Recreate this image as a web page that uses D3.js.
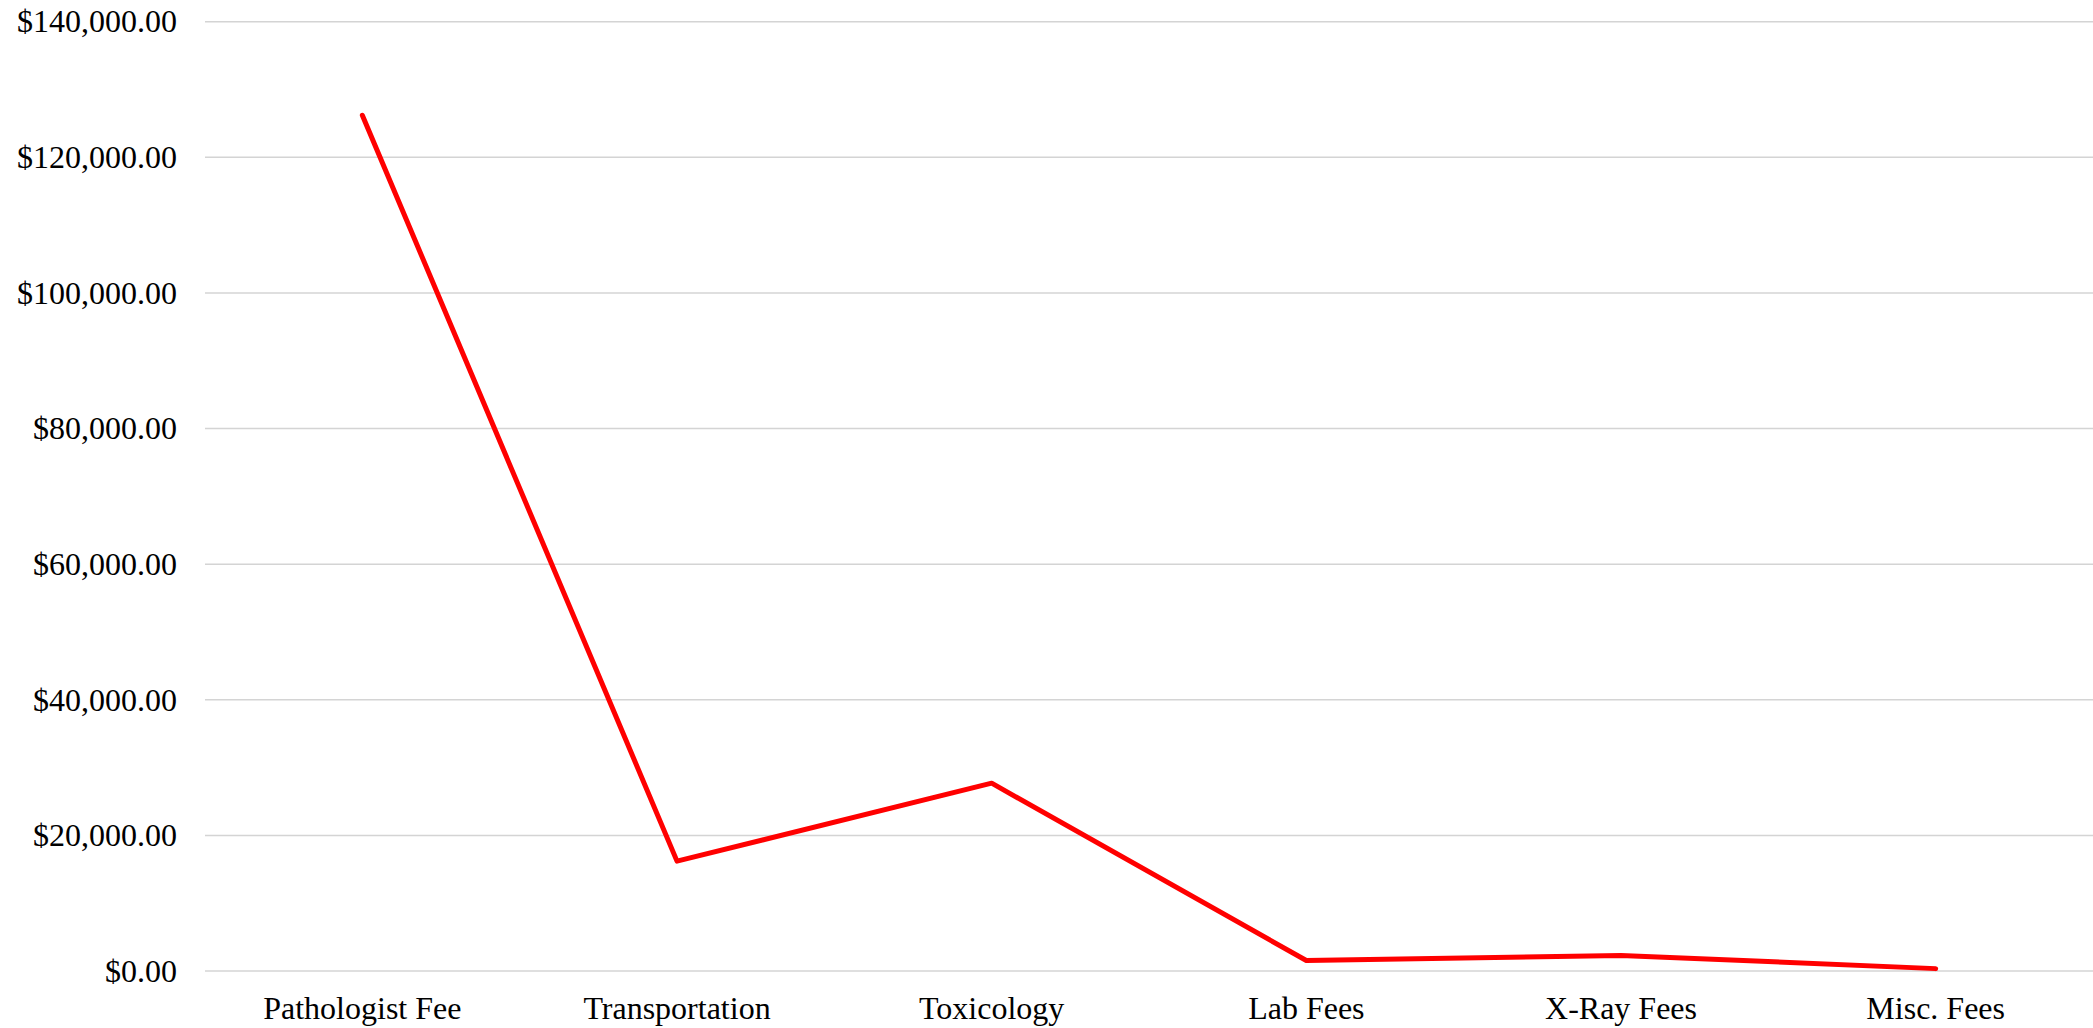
<!DOCTYPE html>
<html>
<head>
<meta charset="utf-8"/>
<title>Autopsy Fees</title>
<style>
  body { margin: 0; background: #fff; }
  text { font-family: "Liberation Serif", "Times New Roman", serif; fill: #000; }
</style>
<script src="https://d3js.org/d3.v7.min.js"></script>
</head>
<body>
<div id="chart"></div>
<script>
// chart data
var categories = ["Pathologist Fee", "Transportation", "Toxicology", "Lab Fees", "X-Ray Fees", "Misc. Fees"]
var fees = [126200, 16200, 27700, 1550, 2300, 350]
var yTicks = [0, 20000, 40000, 60000, 80000, 100000, 120000, 140000]

var width = 2093,
    height = 1028
var margin = {top: 21, right: 0, bottom: 57, left: 205}

var svg = d3.select("#chart")
  .append("svg")
    .attr("width", width)
    .attr("height", height)

var x = d3.scaleBand()
  .domain(categories)
  .range([margin.left, width - margin.right])

var y = d3.scaleLinear()
  .domain([0, 140000])
  .range([height - margin.bottom, margin.top + 0.7])

var money = function(d) { return "$" + d3.format(",.2f")(d) }

// horizontal gridlines
svg.append("g")
  .selectAll("line")
  .data(yTicks)
  .enter()
  .append("line")
    .attr("x1", margin.left)
    .attr("x2", width - margin.right)
    .attr("y1", function(d) { return y(d) })
    .attr("y2", function(d) { return y(d) })
    .attr("stroke", "#d4d4d4")
    .attr("stroke-width", 1.5)

// y axis labels
var yAxis = svg.append("g")
  .attr("transform", "translate(" + margin.left + ",0)")
  .call(d3.axisLeft(y).tickValues(yTicks).tickFormat(money).tickSize(0).tickPadding(28))
yAxis.select(".domain").remove()
yAxis.selectAll("text")
  .style("font-family", "'Liberation Serif', 'Times New Roman', serif")
  .style("font-size", "32px")
  .attr("fill", "#000")

// x axis labels
var xAxis = svg.append("g")
  .attr("transform", "translate(0," + y(0) + ")")
  .call(d3.axisBottom(x).tickSize(0).tickPadding(25))
xAxis.select(".domain").remove()
xAxis.selectAll("text")
  .style("font-family", "'Liberation Serif', 'Times New Roman', serif")
  .style("font-size", "32px")
  .attr("fill", "#000")

// the line
var line = d3.line()
  .x(function(d, i) { return x(categories[i]) + x.bandwidth() / 2 })
  .y(function(d) { return y(d) })

svg.append("path")
  .datum(fees)
  .attr("d", line)
  .attr("fill", "none")
  .attr("stroke", "#ff0000")
  .attr("stroke-width", 5)
  .attr("stroke-linejoin", "round")
  .attr("stroke-linecap", "round")
</script>
</body>
</html>
